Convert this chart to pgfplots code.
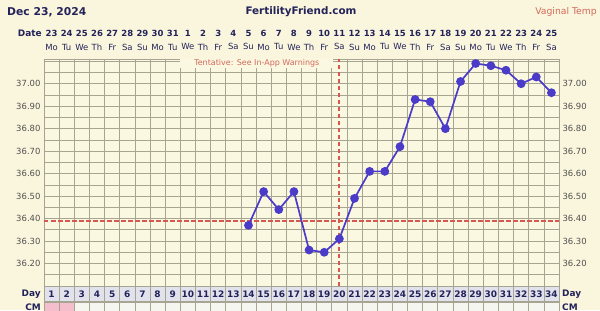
\documentclass[border=0pt]{standalone}
\usepackage{pgfplots}
\pgfplotsset{compat=1.18}
\usetikzlibrary{calc,backgrounds}
\usepackage{fontspec}
\setmainfont{DejaVu Sans}
\definecolor{bgcream}{RGB}{250,246,221}
\definecolor{plotcream}{RGB}{251,248,226}
\definecolor{gridc}{RGB}{168,164,146}
\definecolor{navy}{RGB}{35,35,90}
\definecolor{tickgray}{RGB}{80,80,80}
\definecolor{ffblue}{RGB}{74,60,200}
\definecolor{ffred}{RGB}{214,88,78}
\definecolor{salmon}{RGB}{210,105,90}
\definecolor{dayband}{RGB}{226,226,236}
\definecolor{cmpink}{RGB}{244,190,205}
\definecolor{cmrow}{RGB}{246,246,240}
\begin{document}
\begin{tikzpicture}[x=1bp,y=1bp]
\begin{axis}[
  name=ax, at={(0,0)}, anchor=south west,
  width=515bp, height=227bp, scale only axis,
  xmin=0.5, xmax=34.5, ymin=36.10, ymax=37.11,
  axis background/.style={fill=plotcream},
  axis line style={gridc, line width=0.7bp},
  xtick={1,...,34},
  xticklabels={1,2,3,4,5,6,7,8,9,10,11,12,13,14,15,16,17,18,19,20,21,22,23,24,25,26,27,28,29,30,31,32,33,34},
  xticklabel style={anchor=center, yshift=-8bp, font=\bfseries\fontsize{9}{11}\selectfont, text=navy, inner sep=0pt},
  ytick={36.2,36.3,36.4,36.5,36.6,36.7,36.8,36.9,37.0},
  yticklabels={36.20,36.30,36.40,36.50,36.60,36.70,36.80,36.90,37.00},
  yticklabel style={font=\fontsize{8.5}{10}\selectfont, text=tickgray},
  major tick length=0pt, minor tick length=0pt,
  minor xtick={0.5,1.5,...,34.5},
  minor ytick={36.10,36.15,36.20,36.25,36.30,36.35,36.40,36.45,36.50,36.55,36.60,36.65,36.70,36.75,36.80,36.85,36.90,36.95,37.00,37.05,37.10},
  xminorgrids, yminorgrids,
  minor grid style={gridc, line width=0.7bp},
  tick style={draw=none},
]
\coordinate (sw) at (rel axis cs:0,0);
\fill[plotcream] (axis cs:9.5,37.072) rectangle (axis cs:19.6,37.11);
\node[font=\fontsize{8}{9}\selectfont, text=salmon, inner sep=0] at (axis cs:14.55,37.089) {Tentative: See In-App Warnings};
\addplot[ffred, line width=1.8bp, dash pattern=on 4.5bp off 2.5bp, forget plot] coordinates {(0.5,36.39) (34.5,36.39)};
\addplot[ffred, line width=1.8bp, dash pattern=on 4.5bp off 2.5bp, forget plot] coordinates {(20,36.10) (20,37.11)};
\addplot[ffblue, line width=1.7bp, mark=*, mark size=3.5bp, mark options={fill=ffblue, draw=ffblue}] coordinates {
(14,36.37) (15,36.52) (16,36.44) (17,36.52) (18,36.26) (19,36.25) (20,36.31)
(21,36.49) (22,36.61) (23,36.61) (24,36.72) (25,36.93) (26,36.92) (27,36.80)
(28,37.01) (29,37.09) (30,37.08) (31,37.06) (32,37.00) (33,37.03) (34,36.96)};
\end{axis}

\begin{axis}[
  at={(0,0)}, anchor=south west,
  width=515bp, height=227bp, scale only axis,
  xmin=0.5, xmax=34.5, ymin=36.10, ymax=37.11,
  axis line style={draw=none},
  xticklabel pos=upper, yticklabel pos=right,
  xtick={1,...,34},
  xticklabels={{\textbf{23}\\Mo},{\textbf{24}\\Tu},{\textbf{25}\\We},{\textbf{26}\\Th},{\textbf{27}\\Fr},{\textbf{28}\\Sa},{\textbf{29}\\Su},{\textbf{30}\\Mo},{\textbf{31}\\Tu},{\textbf{1}\\We},{\textbf{2}\\Th},{\textbf{3}\\Fr},{\textbf{4}\\Sa},{\textbf{5}\\Su},{\textbf{6}\\Mo},{\textbf{7}\\Tu},{\textbf{8}\\We},{\textbf{9}\\Th},{\textbf{10}\\Fr},{\textbf{11}\\Sa},{\textbf{12}\\Su},{\textbf{13}\\Mo},{\textbf{14}\\Tu},{\textbf{15}\\We},{\textbf{16}\\Th},{\textbf{17}\\Fr},{\textbf{18}\\Sa},{\textbf{19}\\Su},{\textbf{20}\\Mo},{\textbf{21}\\Tu},{\textbf{22}\\We},{\textbf{23}\\Th},{\textbf{24}\\Fr},{\textbf{25}\\Sa}},
  xticklabel style={align=center, anchor=center, yshift=19bp, font=\fontsize{8.5}{14}\selectfont, text=navy, inner sep=0pt},
  ytick={36.2,36.3,36.4,36.5,36.6,36.7,36.8,36.9,37.0},
  yticklabels={36.20,36.30,36.40,36.50,36.60,36.70,36.80,36.90,37.00},
  yticklabel style={font=\fontsize{8.5}{10}\selectfont, text=tickgray},
  major tick length=0pt,
  tick style={draw=none},
]
\addplot[draw=none, forget plot] coordinates {(1,36.5)};
\end{axis}

\begin{scope}[on background layer, shift={($(sw)+(-44,-24)$)}]
\fill[bgcream] (0,0) rectangle (600,310);
\fill[dayband] (44,9) rectangle (559,24);
\fill[cmrow] (44,-2) rectangle (559,8);
\fill[cmpink] (44,-2) rectangle (74.3,8);
\foreach \i in {0,...,34} \draw[gridc,line width=0.7bp] ({44+\i*15.147},-2) -- ({44+\i*15.147},24);
\draw[gridc,line width=0.7bp] (44,9) -- (559,9);
\draw[gridc,line width=0.7bp] (44,8) -- (559,8);
\end{scope}

\begin{scope}[shift={($(sw)+(-44,-24)$)}]
\node[anchor=west,font=\bfseries\fontsize{10.8}{12}\selectfont,text=navy,inner sep=0] at (7,298) {Dec 23, 2024};
\node[font=\bfseries\fontsize{10.4}{12}\selectfont,text=navy,inner sep=0] at (301,298) {FertilityFriend.com};
\node[anchor=east,font=\fontsize{9.3}{11}\selectfont,text=salmon,inner sep=0] at (597,298) {Vaginal Temp};
\node[anchor=east,font=\bfseries\fontsize{9}{11}\selectfont,text=navy,inner sep=0] at (42,277) {Date};
\node[anchor=east,font=\bfseries\fontsize{9}{11}\selectfont,text=navy,inner sep=0] at (41,16) {Day};
\node[anchor=west,font=\bfseries\fontsize{9}{11}\selectfont,text=navy,inner sep=0] at (562,16) {Day};
\node[anchor=base east,font=\bfseries\fontsize{9}{11}\selectfont,text=navy,inner sep=0] at (41,-0.5) {CM};
\node[anchor=base west,font=\bfseries\fontsize{9}{11}\selectfont,text=navy,inner sep=0] at (562,-0.5) {CM};
\end{scope}

\pgfresetboundingbox
\path[use as bounding box, shift={($(sw)+(-44,-24)$)}] (0,0) rectangle (600,310);
\end{tikzpicture}
\end{document}
